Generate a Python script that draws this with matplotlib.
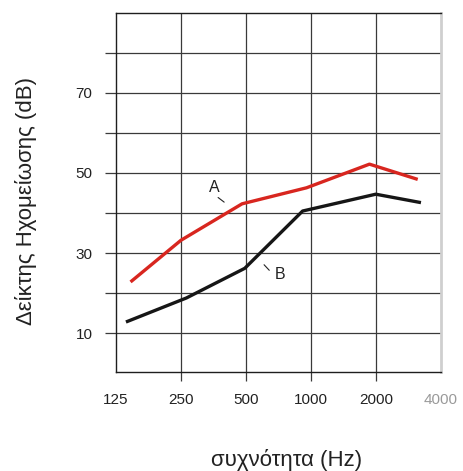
import matplotlib
matplotlib.use("Agg")
import matplotlib.pyplot as plt
from matplotlib.ticker import FixedLocator, NullLocator

# frequency (Hz) and sound reduction index (dB)
freq_a = [146, 250, 480, 955, 1870, 3130]
db_a = [22.8, 33.2, 42.3, 46.3, 52.2, 48.4]

freq_b = [139, 265, 494, 916, 2000, 3240]
db_b = [12.8, 18.8, 26.2, 40.5, 44.7, 42.6]

x_ticks = [125, 250, 500, 1000, 2000, 4000]
x_labels = ["125", "250", "500", "1000", "2000", "4000"]
y_grid = [10, 20, 30, 40, 50, 60, 70, 80]
y_labels = [10, 30, 50, 70]

plt.rcParams['font.family'] = ['Liberation Sans', 'DejaVu Sans']

fig = plt.figure(figsize=(4.64, 4.71), dpi=100)
ax = fig.add_axes([0.25, 0.21, 0.6998, 0.763])

ax.set_xscale("log", base=2)
ax.set_xlim(125, 4000)
ax.set_ylim(0.3, 90)

# grid lines
for f in x_ticks[1:-1]:
    ax.axvline(f, color="#3a3a3a", lw=0.9, zorder=1)
for v in y_grid:
    ax.axhline(v, color="#3a3a3a", lw=0.9, zorder=1)

ax.plot(freq_a, db_a, color="#d8261f", lw=2.4, solid_capstyle="butt", zorder=3)
ax.plot(freq_b, db_b, color="#161616", lw=2.4, solid_capstyle="butt", zorder=3)

# curve labels
ax.text(358, 46.3, "A", fontsize=11.5, color="#222222", ha="center", va="center")
ax.annotate("", xy=(406, 42.3), xytext=(363, 44.3),
            arrowprops=dict(arrowstyle="-", lw=0.8, color="#222222"))
ax.text(723, 24.75, "B", fontsize=11.5, color="#222222", ha="center", va="center")
ax.annotate("", xy=(655, 25.2), xytext=(595, 27.6),
            arrowprops=dict(arrowstyle="-", lw=0.8, color="#222222"))

# ticks
ax.xaxis.set_major_locator(FixedLocator(x_ticks))
ax.xaxis.set_minor_locator(NullLocator())
ax.set_xticklabels(x_labels)
ax.yaxis.set_major_locator(FixedLocator(y_grid))
ax.set_yticklabels([str(v) if v in y_labels else "" for v in y_grid])
ax.tick_params(axis="both", direction="out", width=0.9,
               color="#3a3a3a", labelsize=11, labelcolor="#222222")
ax.tick_params(axis="x", length=6.5, pad=8.5)
ax.tick_params(axis="y", length=8, pad=9)
for t in ax.xaxis.get_major_ticks():
    if t.get_loc() in (125, 4000):
        t.tick1line.set_visible(False)
ax.get_xticklabels()[-1].set_color("#9a9a9a")

for side in ["left", "top", "bottom"]:
    ax.spines[side].set_color("#1e1e1e")
    ax.spines[side].set_linewidth(1.0)
ax.spines["right"].set_color("#cfcfcf")
ax.spines["right"].set_linewidth(2.0)

ax.set_xlabel("συχνότητα (Hz)", fontsize=16, color="#222222")
ax.set_ylabel("Δείκτης Ηχομείωσης (dB)", fontsize=16, color="#222222")
ax.xaxis.set_label_coords(0.526, -0.214)
ax.yaxis.set_label_coords(-0.243, 0.476)

fig.savefig("out.png", dpi=100)
